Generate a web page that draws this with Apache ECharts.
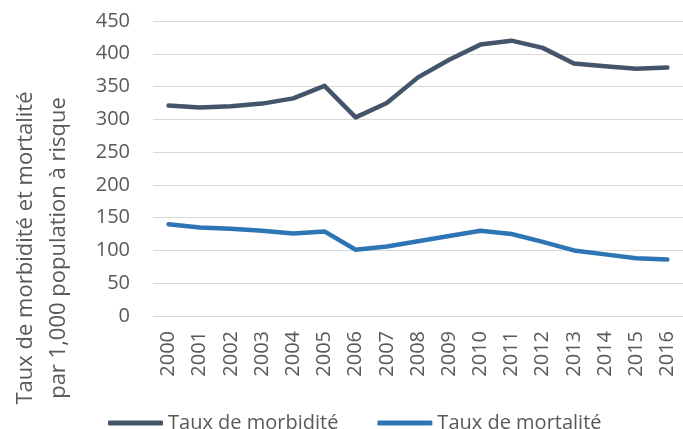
<!DOCTYPE html>
<html>
<head>
<meta charset="utf-8">
<script src="https://cdn.jsdelivr.net/npm/echarts@6/dist/echarts.min.js"></script>
<style>
html,body{margin:0;padding:0;background:#fff;}
#chart{width:683px;height:429px;}
</style>
</head>
<body>
<div id="chart"></div>
<script>
const years = ['2000','2001','2002','2003','2004','2005','2006','2007','2008','2009','2010','2011','2012','2013','2014','2015','2016'];
const morbidite = [321, 318, 320, 324, 332, 351, 303, 325, 364, 391, 414, 420, 409, 385, 381, 377, 379];
const mortalite = [140, 135, 133, 130, 126, 129, 101, 106, 114, 122, 130, 125, 113, 100, 94, 88, 86];
const seriesNames = ['Taux de morbidité', 'Taux de mortalité'];
const axisTitle1 = 'Taux de morbidité et mortalité';
const axisTitle2 = 'par 1,000 population à risque';

const FONT = 'Open Sans';
const TXT = '#595959';
const chart = echarts.init(document.getElementById('chart'), null, {renderer: 'canvas'});
chart.setOption({
  animation: false,
  backgroundColor: '#ffffff',
  textStyle: {fontFamily: FONT},
  grid: {left: 153, right: -6, top: 21, bottom: 113, containLabel: false},
  legend: {
    left: 103, top: 408,
    icon: 'roundRect', itemWidth: 55, itemHeight: 5, itemGap: 39,
    textStyle: {fontFamily: FONT, fontSize: 20, color: TXT},
    data: seriesNames
  },
  xAxis: {
    type: 'category', data: years, boundaryGap: true,
    axisLine: {show: false}, axisTick: {show: false},
    axisLabel: {rotate: 90, margin: 15, fontFamily: FONT, fontSize: 20, color: TXT, interval: 0}
  },
  yAxis: {
    type: 'value', min: 0, max: 450, interval: 50,
    axisLine: {show: false}, axisTick: {show: false},
    axisLabel: {margin: 23, fontFamily: FONT, fontSize: 20, color: TXT},
    splitLine: {lineStyle: {color: '#d9d9d9', width: 1}}
  },
  graphic: [
    {type: 'text', x: 26, y: 248, rotation: Math.PI/2,
     style: {text: axisTitle1, font: '22px "Open Sans"', fill: TXT, align: 'center', verticalAlign: 'middle'}},
    {type: 'text', x: 59, y: 248, rotation: Math.PI/2,
     style: {text: axisTitle2, font: '22px "Open Sans"', fill: TXT, align: 'center', verticalAlign: 'middle'}}
  ],
  series: [
    {name: seriesNames[0], type: 'line', data: morbidite, showSymbol: false, symbol: 'none',
     lineStyle: {color: '#44546A', width: 4.5, cap: 'round', join: 'round'}, itemStyle: {color: '#44546A'}},
    {name: seriesNames[1], type: 'line', data: mortalite, showSymbol: false, symbol: 'none',
     lineStyle: {color: '#2E75B6', width: 4.5, cap: 'round', join: 'round'}, itemStyle: {color: '#2E75B6'}}
  ]
});
</script>
</body>
</html>
